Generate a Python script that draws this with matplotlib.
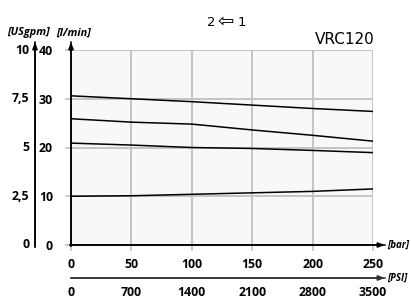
import matplotlib.pyplot as plt

# pressure [bar] and flow [l/min]
pressure_bar = [0, 50, 100, 150, 200, 250]
flow_a = [30.6, 30.0, 29.4, 28.7, 28.0, 27.4]
flow_b = [25.9, 25.2, 24.8, 23.6, 22.5, 21.3]
flow_c = [20.9, 20.5, 20.0, 19.8, 19.4, 18.95]
flow_d = [10.0, 10.1, 10.4, 10.7, 11.0, 11.5]

lpm_ticks = [0, 10, 20, 30, 40]
gpm_labels = ['0', '2,5', '5', '7,5', '10']
bar_ticks = [0, 50, 100, 150, 200, 250]
psi_labels = ['0', '700', '1400', '2100', '2800', '3500']

W, H = 411, 301
fig = plt.figure(figsize=(W / 100, H / 100), dpi=100)
x0, x1, y0, y1 = 71, 373, 245, 50
ax = fig.add_axes([x0 / W, 1 - y0 / H, (x1 - x0) / W, (y0 - y1) / H])
ax.set_facecolor('#f8f8f8')

for s in ax.spines.values():
    s.set_visible(False)

for y in flow_a, flow_b, flow_c, flow_d:
    ax.plot(pressure_bar, y, color='black', lw=1.1, zorder=3)

ax.set_xlim(0, 250)
ax.set_ylim(0, 40)
ax.set_xticks(bar_ticks)
ax.set_yticks(lpm_ticks)
ax.grid(True, color='#c4c4c4', lw=1.4, zorder=1)
ax.set_axisbelow(True)
ax.tick_params(axis='both', color='#c4c4c4', length=4, width=1.2)
ax.tick_params(axis='y', pad=9)
ax.tick_params(axis='x', pad=5)
fnt = dict(family='Open Sans', weight='bold', size=8.8)
ax.set_xticklabels([str(v) for v in bar_ticks], **fnt)
ax.set_yticklabels([str(v) for v in lpm_ticks], **fnt)


def fx(px):
    return px / W


def fy(py):
    return 1 - py / H


def arrow(xa, ya, xb, yb, color='black'):
    fig.add_artist(plt.Line2D([fx(xa), fx(xb)], [fy(ya), fy(yb)], color=color, lw=1.1))
    ax.annotate('', xy=(fx(xb), fy(yb)), xytext=(fx(xa), fy(ya)),
                xycoords='figure fraction', textcoords='figure fraction',
                arrowprops=dict(arrowstyle='-|>,head_length=0.4,head_width=0.15',
                                color=color, lw=1.1, shrinkA=0, shrinkB=0))


# main axes
arrow(71, 246, 71, 42)
arrow(70, 245, 385, 245)
# USgpm axis
arrow(35, 247, 35, 42)
# PSI axis
arrow(71, 278, 385, 278, color='#333333')

for v, lab in zip(lpm_ticks, gpm_labels):
    py = y0 - (y0 - y1) * v / 40
    fig.text(fx(29), fy(py), lab, ha='right', va='center', **fnt)

for v, lab in zip(bar_ticks, psi_labels):
    px = x0 + (x1 - x0) * v / 250
    fig.text(fx(px), fy(293), lab, ha='center', va='center', **fnt)

lab_fnt = dict(family='Open Sans', weight='bold', style='italic', size=7.8)
fig.text(fx(7), fy(33), '[USgpm]', ha='left', va='center', **lab_fnt)
fig.text(fx(56), fy(33), '[l/min]', ha='left', va='center', **lab_fnt)
end_fnt = dict(lab_fnt, size=7)
fig.text(fx(387), fy(245), '[bar]', ha='left', va='center', **end_fnt)
fig.text(fx(387), fy(278), '[PSI]', ha='left', va='center', **end_fnt)

fig.text(fx(211), fy(23), '2', ha='center', va='center', family='DejaVu Sans', size=9.5)
fig.text(fx(226), fy(22), '⇦', ha='center', va='center', family='DejaVu Sans', size=14)
fig.text(fx(242), fy(23), '1', ha='center', va='center', family='DejaVu Sans', size=9.5)
fig.text(fx(375), fy(39), 'VRC120', ha='right', va='center', family='DejaVu Sans', size=11)

fig.savefig('out.png', dpi=100)
